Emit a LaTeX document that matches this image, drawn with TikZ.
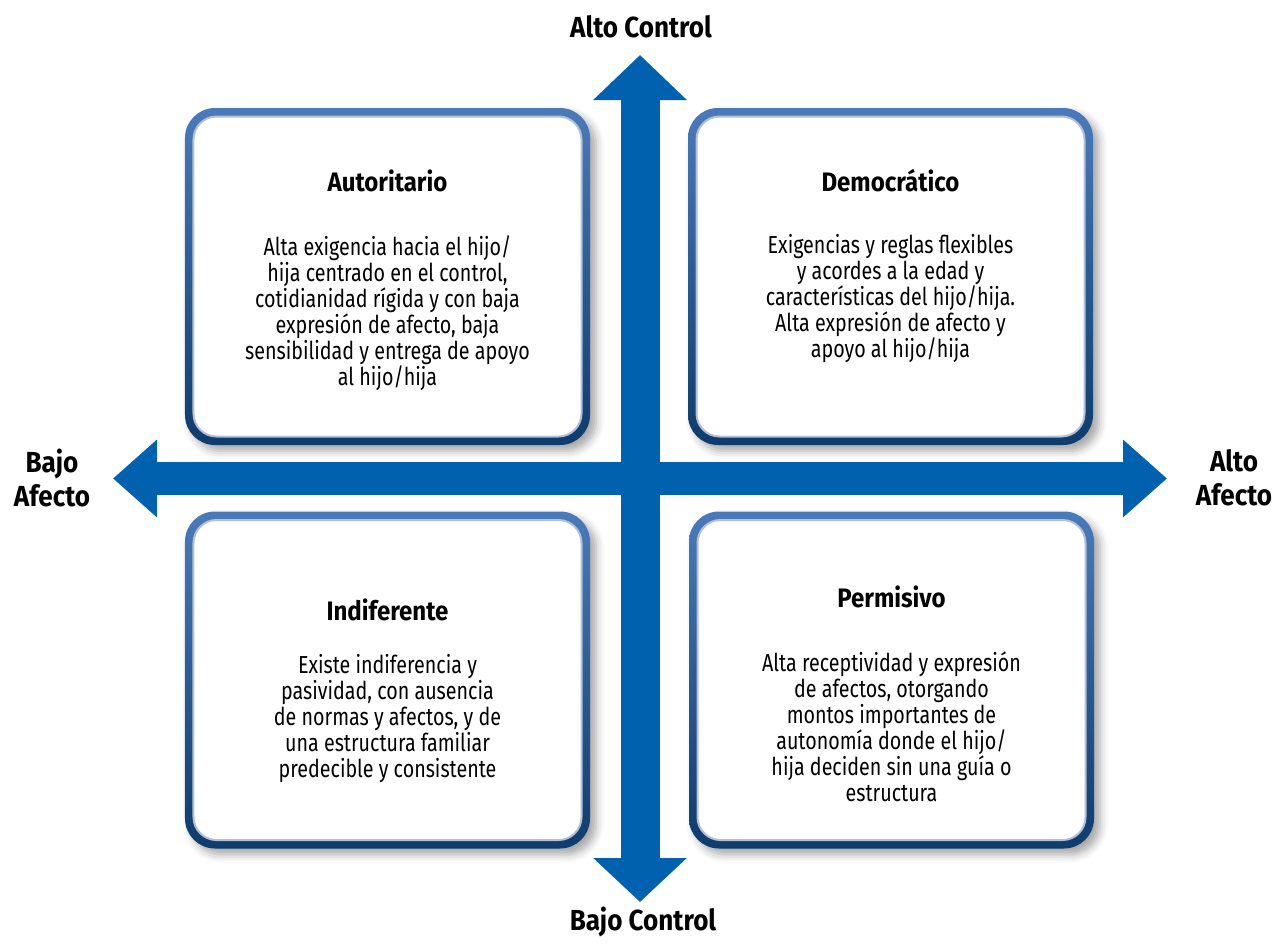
\documentclass[tikz,border=0pt]{standalone}
\usepackage{fontspec}
\setmainfont[FakeStretch=0.8, BoldFeatures={FakeStretch=0.9}]{Fira Sans}
\usetikzlibrary{arrows.meta,shadows.blur}

\definecolor{axisblue}{HTML}{0061AE}
\definecolor{frametop}{HTML}{4A7ABA}
\definecolor{framebot}{HTML}{0E3C6C}
\definecolor{frameline}{HTML}{B3C0D8}

\tikzset{
  quadframe/.style={rounded corners=6mm, minimum width=81mm, minimum height=67.4mm,
    top color=frametop, bottom color=framebot,
    blur shadow={shadow xshift=1.2mm, shadow yshift=-1.2mm, shadow blur radius=1.6mm, shadow opacity=35}},
  quadface/.style={rounded corners=4.6mm, minimum width=77.6mm, minimum height=64mm,
    fill=white, draw=frameline, line width=0.4mm},
  quadtitle/.style={font=\fontsize{15.2}{16}\selectfont\bfseries, anchor=base, inner sep=0pt},
  quadtext/.style={font=\fontsize{14}{14.8}\selectfont, align=center, anchor=north, inner sep=0pt},
  axislabel/.style={font=\fontsize{16.5}{19.4}\selectfont\bfseries, align=center, inner sep=0pt},
  vaxis/.style={draw=axisblue, line width=7.8mm,
    {Triangle[length=9mm,width=18.2mm]}-{Triangle[length=8.8mm,width=18.2mm]}},
  haxis/.style={draw=axisblue, line width=6.6mm,
    {Triangle[length=8.8mm,width=15mm]}-{Triangle[length=8.8mm,width=15mm]}},
}

\begin{document}
\begin{tikzpicture}[x=0.2mm, y=-0.2mm]
\useasboundingbox (0,0) rectangle (1273,945);

% cuadrantes
\node[quadframe] (autframe) at (387.5,276.5) {};
\node[quadface] (autface) at (autframe.center) {};
\node[quadframe] (demframe) at (890.5,276.5) {};
\node[quadface] (demface) at (demframe.center) {};
\node[quadframe] (indframe) at (387.5,680) {};
\node[quadface] (indface) at (indframe.center) {};
\node[quadframe] (perframe) at (891.5,680) {};
\node[quadface] (perface) at (perframe.center) {};

\node[quadtitle] (auttitle) at (387.5,191) {Autoritario};
\node[quadtext] (auttext) at (387.5,235) {Alta exigencia hacia el hijo/\\hija centrado en el control,\\cotidianidad rígida y con baja\\expresión de afecto, baja\\sensibilidad y entrega de apoyo\\al hijo/hija};

\node[quadtitle] (demtitle) at (890.5,191) {Democrático};
\node[quadtext] (demtext) at (890.5,234) {Exigencias y reglas flexibles\\y acordes a la edad y\\características del hijo/hija.\\Alta expresión de afecto y\\apoyo al hijo/hija};

\node[quadtitle] (indtitle) at (387.5,620) {Indiferente};
\node[quadtext] (indtext) at (387.5,654) {Existe indiferencia y\\pasividad, con ausencia\\de normas y afectos, y de\\una estructura familiar\\predecible y consistente};

\node[quadtitle] (pertitle) at (891.5,607) {Permisivo};
\node[quadtext] (pertext) at (891.5,651) {Alta receptividad y expresión\\de afectos, otorgando\\montos importantes de\\autonomía donde el hijo/\\hija deciden sin una guía o\\estructura};

% ejes
\coordinate (ctop) at (640,55);
\coordinate (cbot) at (640,902);
\coordinate (aleft) at (113,478.5);
\coordinate (aright) at (1167,478.5);
\draw[vaxis] (ctop) -- (cbot);
\draw[haxis] (aleft) -- (aright);

\node[axislabel] (altocontrol) at (641,27) {Alto Control};
\node[axislabel] (bajocontrol) at (643,922) {Bajo Control};
\node[axislabel] (bajoafecto) at (52,478) {Bajo\\Afecto};
\node[axislabel] (altoafecto) at (1234,478) {Alto\\Afecto};
\end{tikzpicture}
\end{document}
